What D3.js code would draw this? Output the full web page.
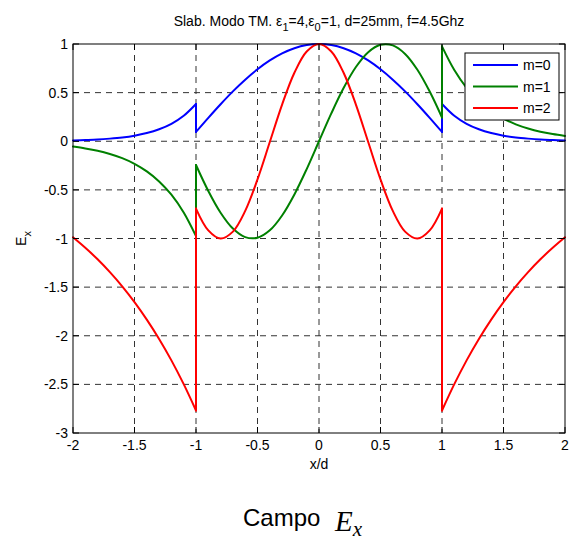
<!DOCTYPE html>
<html><head><meta charset="utf-8">
<script src="https://cdn.jsdelivr.net/npm/d3@7"></script>
<style>body{margin:0;background:#fff}svg{display:block}</style>
</head><body><svg id="chart" width="571" height="543"></svg>
<script>
// Sample positions (x/d): outside left, inside the slab, outside right
const xLeft  = [-2,-1.9,-1.8,-1.7,-1.6,-1.5,-1.4,-1.3,-1.2,-1.1,-1];
const xInner = [-1,-0.9,-0.8,-0.7,-0.6,-0.5,-0.4,-0.3,-0.2,-0.1,0,0.1,0.2,0.3,0.4,0.5,0.6,0.7,0.8,0.9,1];
const xRight = [1,1.1,1.2,1.3,1.4,1.5,1.6,1.7,1.8,1.9,2];

// m = 0
const m0Left  = [0.009,0.013,0.018,0.027,0.039,0.057,0.084,0.123,0.179,0.262,0.383];
const m0Inner = [0.096,0.241,0.381,0.513,0.633,0.740,0.831,0.904,0.957,0.989,1.000,0.989,0.957,0.904,0.831,0.740,0.633,0.513,0.381,0.241,0.096];
const m0Right = [0.383,0.262,0.179,0.123,0.084,0.057,0.039,0.027,0.018,0.013,0.009];
// m = 1
const m1Left  = [-0.055,-0.074,-0.098,-0.131,-0.174,-0.232,-0.310,-0.413,-0.550,-0.733,-0.976];
const m1Inner = [-0.244,-0.511,-0.735,-0.898,-0.986,-0.992,-0.916,-0.763,-0.547,-0.286,0,0.286,0.547,0.763,0.916,0.992,0.986,0.898,0.735,0.511,0.244];
const m1Right = [0.976,0.733,0.550,0.413,0.310,0.232,0.174,0.131,0.098,0.074,0.055];
// m = 2
const m2Left  = [-0.988,-1.096,-1.214,-1.346,-1.492,-1.654,-1.834,-2.033,-2.253,-2.498,-2.769];
const m2Inner = [-0.692,-0.916,-1.000,-0.929,-0.716,-0.392,-0.008,0.377,0.704,0.923,1.000,0.923,0.704,0.377,-0.008,-0.392,-0.716,-0.929,-1.000,-0.916,-0.692];
const m2Right = [-2.769,-2.498,-2.253,-2.033,-1.834,-1.654,-1.492,-1.346,-1.214,-1.096,-0.988];

const seriesNames  = ["m=0","m=1","m=2"];
const seriesColors = ["#0000ff","#008000","#ff0000"];

const xTicks = [-2,-1.5,-1,-0.5,0,0.5,1,1.5,2];
const yTicks = [-3,-2.5,-2,-1.5,-1,-0.5,0,0.5,1];

const modes = [
  [m0Left, m0Inner, m0Right],
  [m1Left, m1Inner, m1Right],
  [m2Left, m2Inner, m2Right]
];

const svg = d3.select("#chart");
const L = 73, R = 565, T = 44, B = 433;
const x = d3.scaleLinear().domain([-2, 2]).range([L, R]);
const y = d3.scaleLinear().domain([-3, 1]).range([B, T]);
const font = "'Liberation Sans', Arial, sans-serif";

// grid
const grid = svg.append("g").attr("stroke", "#333").attr("stroke-width", 1)
  .attr("stroke-dasharray", "6,5").attr("fill", "none");
xTicks.slice(1, -1).forEach(v => grid.append("line")
  .attr("x1", x(v)).attr("x2", x(v)).attr("y1", T).attr("y2", B));
yTicks.slice(1, -1).forEach(v => grid.append("line")
  .attr("x1", L).attr("x2", R).attr("y1", y(v)).attr("y2", y(v)));

// curves
const line = d3.line().x(d => x(d[0])).y(d => y(d[1])).curve(d3.curveCatmullRom.alpha(0.5));
const segX = [xLeft, xInner, xRight];
const plot = svg.append("g").attr("fill", "none").attr("stroke-width", 2)
  .attr("stroke-linecap", "round").attr("stroke-linejoin", "round");
modes.forEach((segs, i) => {
  const g = plot.append("g").attr("stroke", seriesColors[i]);
  segs.forEach((vals, k) => {
    const pts = segX[k].map((xv, j) => [xv, vals[j]]);
    g.append("path").attr("d", line(pts));
  });
  // jumps at the slab interfaces
  [[0, 1], [1, 2]].forEach(([a, b]) => {
    const pa = [segX[a][segX[a].length - 1], segs[a][segs[a].length - 1]];
    const pb = [segX[b][0], segs[b][0]];
    g.append("path").attr("d", d3.line().x(d => x(d[0])).y(d => y(d[1]))([pa, pb]));
  });
});

// box and ticks
svg.append("rect").attr("x", L).attr("y", T).attr("width", R - L).attr("height", B - T)
  .attr("fill", "none").attr("stroke", "#000").attr("stroke-width", 1);
const tk = svg.append("g").attr("stroke", "#000").attr("stroke-width", 1);
const tl = 6;
xTicks.forEach(v => {
  tk.append("line").attr("x1", x(v)).attr("x2", x(v)).attr("y1", B).attr("y2", B - tl);
  tk.append("line").attr("x1", x(v)).attr("x2", x(v)).attr("y1", T).attr("y2", T + tl);
});
yTicks.forEach(v => {
  tk.append("line").attr("x1", L).attr("x2", L + tl).attr("y1", y(v)).attr("y2", y(v));
  tk.append("line").attr("x1", R).attr("x2", R - tl).attr("y1", y(v)).attr("y2", y(v));
});

// tick labels
const fmt = v => String(v);
svg.append("g").selectAll("text").data(xTicks).join("text")
  .attr("x", d => x(d)).attr("y", 450).attr("text-anchor", "middle")
  .attr("font-family", font).attr("font-size", 14).text(fmt);
svg.append("g").selectAll("text").data(yTicks).join("text")
  .attr("x", 68).attr("y", d => y(d) + 5).attr("text-anchor", "end")
  .attr("font-family", font).attr("font-size", 14).text(fmt);

// axis labels
svg.append("text").attr("x", (L + R) / 2).attr("y", 469).attr("text-anchor", "middle")
  .attr("font-family", font).attr("font-size", 14).text("x/d");
const yl = svg.append("text").attr("transform", `translate(26,${(T + B) / 2}) rotate(-90)`)
  .attr("text-anchor", "middle").attr("font-family", font).attr("font-size", 14);
yl.append("tspan").text("E");
yl.append("tspan").attr("font-size", 11).attr("dy", 5).text("x");

// title
const tt = svg.append("text").attr("x", (L + R) / 2).attr("y", 26).attr("text-anchor", "middle")
  .attr("font-family", font).attr("font-size", 14);
tt.append("tspan").text("Slab. Modo TM. ε");
tt.append("tspan").attr("font-size", 11).attr("dy", 5).text("1");
tt.append("tspan").attr("dy", -5).text("=4,ε");
tt.append("tspan").attr("font-size", 11).attr("dy", 5).text("0");
tt.append("tspan").attr("dy", -5).text("=1, d=25mm, f=4.5Ghz");

// legend
const lg = svg.append("g");
lg.append("rect").attr("x", 465).attr("y", 53).attr("width", 94).attr("height", 67)
  .attr("fill", "#fff").attr("stroke", "#000").attr("stroke-width", 1);
seriesNames.forEach((n, i) => {
  const yy = 65 + i * 21.5;
  lg.append("line").attr("x1", 473).attr("x2", 518).attr("y1", yy).attr("y2", yy)
    .attr("stroke", seriesColors[i]).attr("stroke-width", 2);
  lg.append("text").attr("x", 523).attr("y", yy + 5).attr("font-family", font)
    .attr("font-size", 14).text(n);
});

// caption
svg.append("text").attr("x", 243).attr("y", 526).attr("font-family", font)
  .attr("font-size", 24).text("Campo");
const cap = svg.append("text").attr("x", 335).attr("y", 531)
  .attr("font-family", "'Liberation Serif', 'Times New Roman', serif")
  .attr("font-style", "italic").attr("font-size", 29);
cap.append("tspan").text("E");
cap.append("tspan").attr("font-size", 21).attr("dy", 5).text("x");
</script></body></html>
